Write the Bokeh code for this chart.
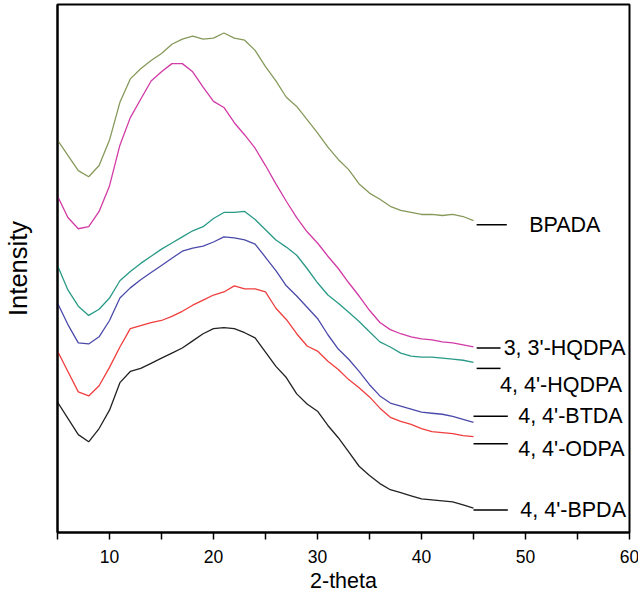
from bokeh.plotting import figure
from bokeh.models import Range1d, FixedTicker
from bokeh.core.properties import value
from bokeh.embed import file_html
from bokeh.resources import INLINE

two_theta = list(range(5, 46))

bpada = [385, 370, 355, 349, 360, 385, 422, 445, 455, 463, 470, 479, 484, 487, 484, 485,
         490, 485, 483, 473, 457, 443, 427, 418, 405, 392, 378, 366, 356, 342, 333, 327,
         320, 316, 314, 312, 312, 311, 312, 310, 306]
hqdpa33 = [330, 309, 298, 300, 315, 340, 380, 407, 425, 443, 452, 460, 460, 452, 437, 423,
           417, 402, 390, 377, 360, 342, 325, 309, 295, 284, 271, 259, 245, 232, 218, 206,
           199, 195, 192, 190, 189, 187, 186, 184, 182]
hqdpa44 = [262, 238, 222, 213, 219, 230, 247, 256, 264, 271, 278, 284, 290, 296, 300, 308,
           314, 314, 315, 307, 297, 287, 280, 272, 259, 245, 233, 225, 216, 207, 197, 187,
           182, 176, 173, 172, 172, 171, 170, 169, 167]
btda = [225, 204, 186, 185, 192, 208, 230, 240, 248, 255, 262, 269, 276, 279, 281, 285,
        290, 289, 287, 283, 270, 257, 242, 232, 221, 210, 194, 180, 170, 158, 145, 134,
        127, 124, 121, 118, 117, 116, 114, 111, 108]
odpa = [178, 158, 138, 134, 144, 162, 182, 200, 203, 206, 208, 212, 217, 223, 228, 233,
        236, 242, 239, 239, 236, 220, 209, 195, 183, 178, 168, 160, 150, 142, 133, 122,
        113, 109, 106, 102, 99, 98, 97, 95, 94]
bpda = [128, 112, 96, 89, 102, 120, 147, 158, 161, 166, 171, 176, 181, 188, 195, 200,
        201, 200, 196, 191, 177, 163, 152, 136, 126, 119, 105, 93, 79, 65, 56, 48,
        42, 39, 36, 33, 32, 31, 30, 27, 24]

series = [
    ("BPADA", bpada, "#86995a"),
    ("3, 3'-HQDPA", hqdpa33, "#d23aa6"),
    ("4, 4'-HQDPA", hqdpa44, "#2a9a88"),
    ("4, 4'-BTDA", btda, "#4b4aaa"),
    ("4, 4'-ODPA", odpa, "#f03e3e"),
    ("4, 4'-BPDA", bpda, "#222222"),
]

x_major = [10, 20, 30, 40, 50, 60]
x_minor = [5, 15, 25, 35, 45, 55]

FONT = "Liberation Sans"

p = figure(width=639, height=595, output_backend="svg", toolbar_location=None,
           x_range=Range1d(5, 60), y_range=Range1d(0, 518),
           min_border_left=51, min_border_right=10, min_border_top=4, min_border_bottom=59)
p.background_fill_color = "white"
p.border_fill_color = "white"
p.xgrid.visible = False
p.ygrid.visible = False
p.outline_line_color = "black"
p.outline_line_width = 2
p.outline_line_alpha = 1

for name, ys, color in series:
    p.line(two_theta, ys, line_color=color, line_width=1.3)

# label lines + texts
labels = [
    ("BPADA", 45.3, 48.2, 302, 50.35, 302),
    ("3, 3'-HQDPA", 45.3, 47.6, 181, 47.9, 181),
    ("4, 4'-HQDPA", 45.3, 47.6, 161, 47.55, 145),
    ("4, 4'-BTDA", 45.0, 48.3, 114, 49.3, 114),
    ("4, 4'-ODPA", 45.0, 48.3, 87, 49.3, 82),
    ("4, 4'-BPDA", 45.0, 48.3, 22, 49.5, 22),
]
for txt, x0, x1, yl, xt, yt in labels:
    p.segment(x0=[x0], x1=[x1], y0=[yl], y1=[yl], line_color="black", line_width=1.5)
    p.text(x=[xt], y=[yt], text=[txt], text_font=value(FONT), text_font_size="21.5px",
           text_baseline="middle", text_align="left", text_color="black")

xa = p.xaxis[0]
xa.ticker = FixedTicker(ticks=x_major, minor_ticks=x_minor)
xa.axis_line_width = 2
xa.major_tick_in = 0
xa.major_tick_out = 7
xa.minor_tick_in = 0
xa.minor_tick_out = 7
xa.major_tick_line_width = 1.5
xa.minor_tick_line_width = 1.5
xa.major_label_text_font = FONT
xa.major_label_text_font_size = "17.5px"
xa.major_label_text_color = "black"
xa.major_label_standoff = 10
xa.axis_label = "2-theta"
xa.axis_label_text_font = FONT
xa.axis_label_text_font_size = "21.5px"
xa.axis_label_text_font_style = "normal"
xa.axis_label_text_color = "black"
xa.axis_label_standoff = 3

ya = p.yaxis[0]
ya.ticker = FixedTicker(ticks=[])
ya.axis_line_width = 2
ya.major_tick_out = 0
ya.major_tick_in = 0
ya.minor_tick_out = 0
ya.minor_tick_in = 0
ya.major_label_text_font_size = "0px"
ya.axis_label = "Intensity"
ya.axis_label_text_font = FONT
ya.axis_label_text_font_size = "25.5px"
ya.axis_label_text_font_style = "normal"
ya.axis_label_text_color = "black"
ya.axis_label_standoff = 26

open("out.html", "w").write(file_html(p, INLINE))
